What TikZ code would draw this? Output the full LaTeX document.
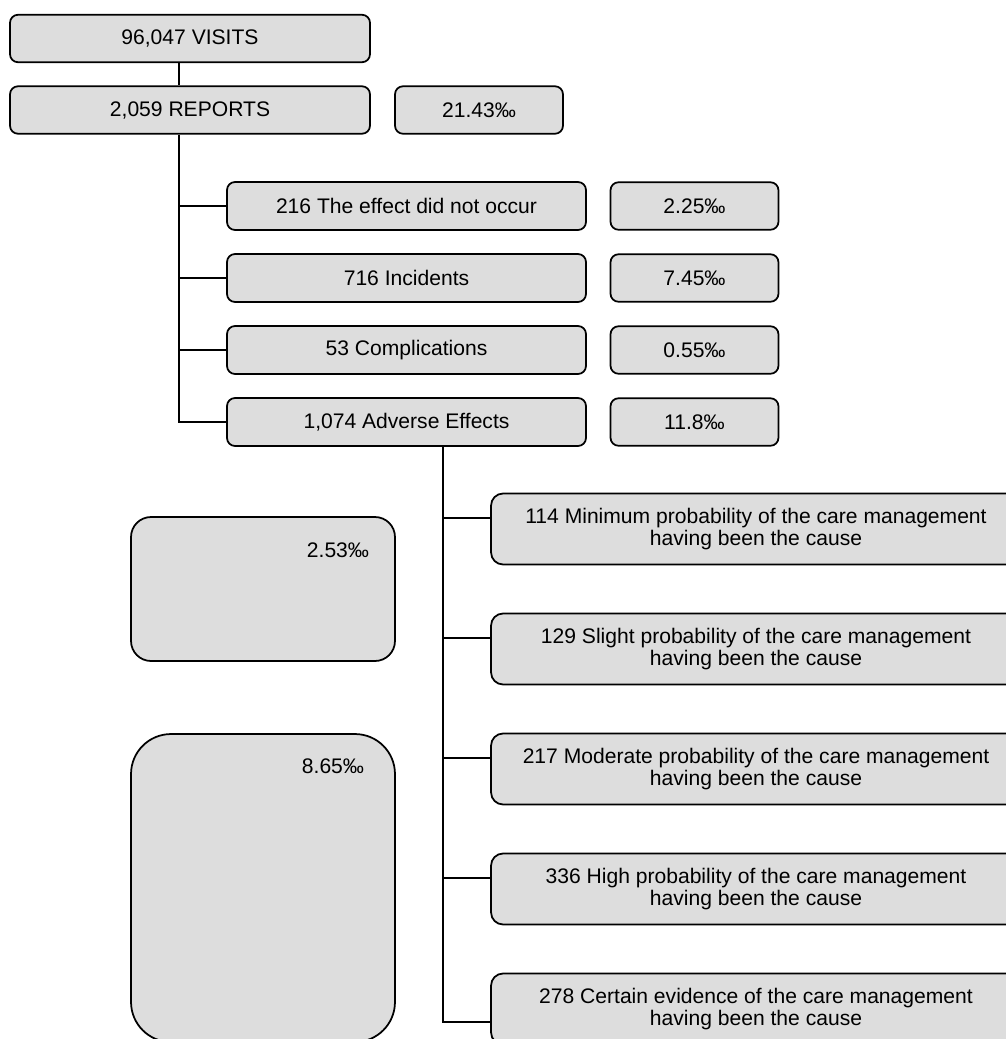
\documentclass[tikz,border=0pt]{standalone}
\usepackage{fontspec}
\setmainfont{Liberation Sans}
\usetikzlibrary{positioning}
\definecolor{boxgray}{HTML}{DDDDDD}
\tikzset{
  txt/.style={font=\fontsize{12}{12.9}\selectfont, align=center},
  box/.style={txt, draw, fill=boxgray, line width=1pt, rounded corners=#1, inner sep=0pt},
  topbox/.style={box=1.6mm, minimum width=7.2cm, minimum height=9.5mm},
  ratebox/.style={box=1.6mm, minimum width=3.36cm, minimum height=9.5mm},
  catbox/.style={box=1.6mm, minimum width=7.18cm, minimum height=9.6mm},
  causebox/.style={box=2.4mm, minimum width=10.6cm, minimum height=14.2mm},
  sumbox/.style={box=#1, minimum width=5.28cm}
}
\begin{document}
\begin{tikzpicture}[x=0.02cm,y=-0.02cm,line width=1pt]
\useasboundingbox (0,0) rectangle (1006,1039);
\clip (0,0) rectangle (1006,1039);

\node[topbox] (visits) at (190,38.5) {96,047 VISITS};
\node[topbox] (reports) at (190,110) {2,059 REPORTS};
\node[ratebox] (reprate) at (479,110) {21.43‰};

\node[catbox] (effect) at (406.5,206) {216 The effect did not occur};
\node[catbox] (incid) at (406.5,278) {716 Incidents};
\node[catbox] (compl) at (406.5,350) {53 Complications};
\node[catbox] (adverse) at (406.5,422) {1,074 Adverse Effects};
\node[ratebox] (effrate) at (694.5,206) {2.25‰};
\node[ratebox] (incrate) at (694.5,278) {7.45‰};
\node[ratebox] (comrate) at (694.5,350) {0.55‰};
\node[ratebox] (advrate) at (694.5,422) {11.8‰};

\node[causebox] (m1) at (756,529) {114 Minimum probability of the care management\\having been the cause};
\node[causebox] (m2) at (756,649) {129 Slight probability of the care management\\having been the cause};
\node[causebox] (m3) at (756,769) {217 Moderate probability of the care management\\having been the cause};
\node[causebox] (m4) at (756,889) {336 High probability of the care management\\having been the cause};
\node[causebox] (m5) at (756,1009) {278 Certain evidence of the care management\\having been the cause};

\node[sumbox=4mm, minimum height=2.88cm] (low) at (263,589) {};
\node[sumbox=8mm, minimum height=6.16cm] (high) at (263,888) {};
\node[txt] (lowrate) at (338,550) {2.53‰};
\node[txt] (highrate) at (333,766) {8.65‰};

\coordinate (t1) at (179,0);
\coordinate (t2) at (443,0);
\draw (t1|-visits.south)--(t1|-reports.north);
\draw (t1|-reports.south)|-(adverse.west);
\foreach \n in {effect,incid,compl} \draw (t1|-\n.west)--(\n.west);

\foreach \n in {m1,m2,m3,m4}{
  \coordinate (\n-in) at ([yshift=2.2mm]\n.west);
  \draw (t2|-\n-in)--(\n-in);
}
\coordinate (m5-in) at ([yshift=-2.6mm]m5.west);
\draw (t2|-adverse.south)|-(m5-in);
\end{tikzpicture}
\end{document}
